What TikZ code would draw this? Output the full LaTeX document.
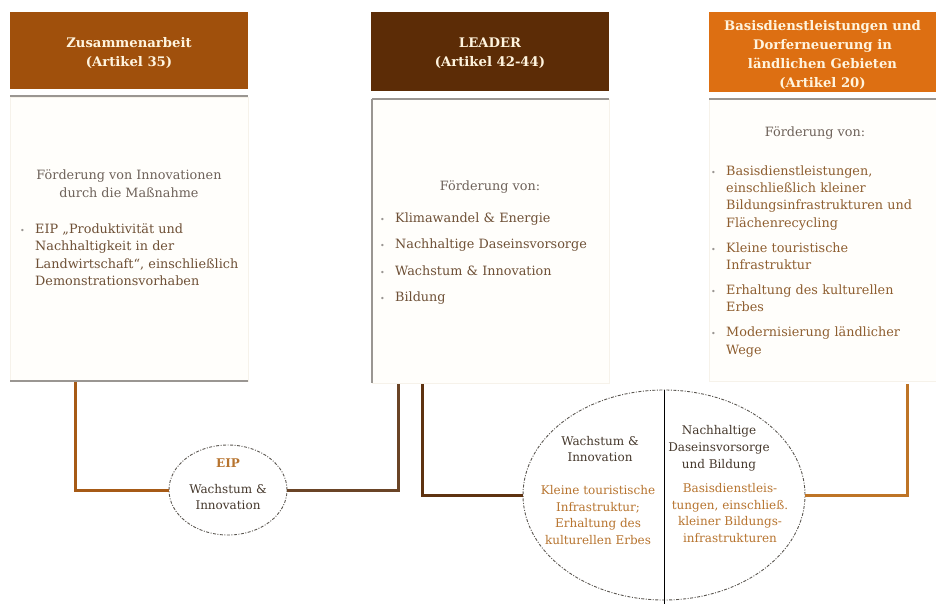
\documentclass[tikz,border=0pt]{standalone}
\usepackage{fontspec}
\setmainfont{DejaVu Serif}
\usetikzlibrary{shapes.geometric}
\definecolor{hdrA}{HTML}{A0500C}
\definecolor{hdrB}{HTML}{5C2C06}
\definecolor{hdrC}{HTML}{DD6F12}
\definecolor{hdrtxt}{HTML}{FFF4DE}
\definecolor{rulegray}{HTML}{9A9692}
\definecolor{panelfill}{HTML}{FFFEFB}
\definecolor{paneledge}{HTML}{F6F2EA}
\definecolor{graytxt}{HTML}{6E625A}
\definecolor{listtxtA}{HTML}{6E5036}
\definecolor{listtxtC}{HTML}{8E5E30}
\definecolor{orangetxt}{HTML}{B7742F}
\definecolor{darktxt}{HTML}{45382C}
\definecolor{connA}{HTML}{A65A16}
\definecolor{connB}{HTML}{6A4426}
\definecolor{connC}{HTML}{5E3210}
\definecolor{connD}{HTML}{BE7426}
\definecolor{ellgray}{HTML}{5A5650}
\newcommand\bitem[1]{\par\noindent\hangindent=15pt\hangafter=1\makebox[15pt][l]{\textcolor{rulegray}{\footnotesize\textbullet}}#1\par}
\begin{document}
\begin{tikzpicture}[x=1pt,y=-1pt,
  headbox/.style={draw=none, inner sep=0pt},
  header/.style={inner sep=0pt, text=hdrtxt, align=center,
    font=\fontsize{13.2}{19}\selectfont\bfseries},
  panel/.style={fill=panelfill, draw=paneledge, line width=0.6pt},
  grayrule/.style={draw=rulegray, line width=1.6pt},
  centertxt/.style={inner sep=0pt, align=center, text=graytxt,
    font=\fontsize{12.8}{18}\selectfont},
  listbox/.style={inner sep=0pt, anchor=north west, align=left,
    font=\fontsize{12.8}{17.3}\selectfont},
  conn/.style={line width=3pt},
  bubble/.style={ellipse, draw=ellgray, line width=0.9pt,
    dash pattern=on 3pt off 1.5pt on 1pt off 1.5pt, inner sep=0pt},
  elltxt/.style={inner sep=0pt, align=center, font=\fontsize{12}{16.8}\selectfont}
]
\useasboundingbox (0,0) rectangle (936,604);

% ---------- panels ----------
\path[panel] (10,97) rectangle (248,381);
\path[panel] (372,99) rectangle (609,383);
\path[panel] (709,99) rectangle (936,381);

% ---------- headers ----------
\node[headbox, fill=hdrA, minimum width=238pt, minimum height=77pt] (h1) at (129,50.5) {};
\node[header] (h1t) at (129,53) {Zusammenarbeit\\(Artikel 35)};
\node[headbox, fill=hdrB, minimum width=238pt, minimum height=79pt] (h2) at (490,51.5) {};
\node[header] (h2t) at (490,53) {LEADER\\(Artikel 42-44)};
\node[headbox, fill=hdrC, minimum width=227pt, minimum height=80pt] (h3) at (822.5,52) {};
\node[header] (h3t) at (822.5,55) {Basisdienstleistungen und\\Dorferneuerung in\\ländlichen Gebieten\\(Artikel 20)};

% ---------- gray rules ----------
\draw[grayrule] (10,96) -- (248,96);
\draw[grayrule] (10,381) -- (248,381);
\draw[grayrule] (372,99) -- (609,99);
\draw[grayrule] (372,99) -- (372,383);
\draw[grayrule] (709,99) -- (936,99);

% ---------- box 1 content ----------
\node[centertxt] (t1) at (129,184) {Förderung von Innovationen\\durch die Maßnahme};
\node[listbox, text width=225pt, text=listtxtA] (l1) at (20,216)
  {\bitem{EIP „Produktivität und\newline Nachhaltigkeit in der\newline Landwirtschaft“, einschließlich\newline Demonstrationsvorhaben}};

% ---------- box 2 content ----------
\node[centertxt] (t2) at (490,187) {Förderung von:};
\node[listbox, text width=225pt, text=listtxtA] (l2) at (380,196)
  {\setlength{\parskip}{9pt}%
   \bitem{Klimawandel \& Energie}
   \bitem{Nachhaltige Daseinsvorsorge}
   \bitem{Wachstum \& Innovation}
   \bitem{Bildung}};

% ---------- box 3 content ----------
\node[centertxt] (t3) at (815,133) {Förderung von:};
\node[listbox, text width=222pt, text=listtxtC] (l3) at (711,150)
  {\setlength{\parskip}{7.7pt}%
   \bitem{Basisdienstleistungen,\newline einschließlich kleiner\newline Bildungsinfrastrukturen und\newline Flächenrecycling}
   \bitem{Kleine touristische\newline Infrastruktur}
   \bitem{Erhaltung des kulturellen\newline Erbes}
   \bitem{Modernisierung ländlicher\newline Wege}};

% ---------- ellipses ----------
\node[bubble, minimum width=118pt, minimum height=90pt] (e1) at (228,490) {};
\node[elltxt, text=orangetxt] (e1a) at (228,463) {\bfseries EIP};
\node[elltxt, text=darktxt] (e1b) at (228,497) {Wachstum \&\\Innovation};

\node[bubble, minimum width=282pt, minimum height=210pt] (e2) at (664,495) {};
\draw[black, line width=1pt] (e2.north) -- ([yshift=-4pt]e2.south);
\node[elltxt, text=darktxt] (e2a) at (600,449) {Wachstum \&\\Innovation};
\node[elltxt, text=orangetxt] (e2b) at (598,515) {Kleine touristische\\Infrastruktur;\\Erhaltung des\\kulturellen Erbes};
\node[elltxt, text=darktxt] (e2c) at (719,448) {Nachhaltige\\Daseinsvorsorge\\und Bildung};
\node[elltxt, text=orangetxt] (e2d) at (730,513) {Basisdienstleis-\\tungen, einschließ.\\kleiner Bildungs-\\infrastrukturen};

% ---------- connectors ----------
\coordinate (c1) at (75,382);
\coordinate (c2) at (398,384);
\coordinate (c3) at (422,384);
\coordinate (c4) at (907,384);
\draw[conn, draw=connA] (c1) |- (e1.west);
\draw[conn, draw=connB] (e1.east) -| (c2);
\draw[conn, draw=connC] (c3) |- (e2.west);
\draw[conn, draw=connD] (e2.east) -| (c4);
\end{tikzpicture}
\end{document}
